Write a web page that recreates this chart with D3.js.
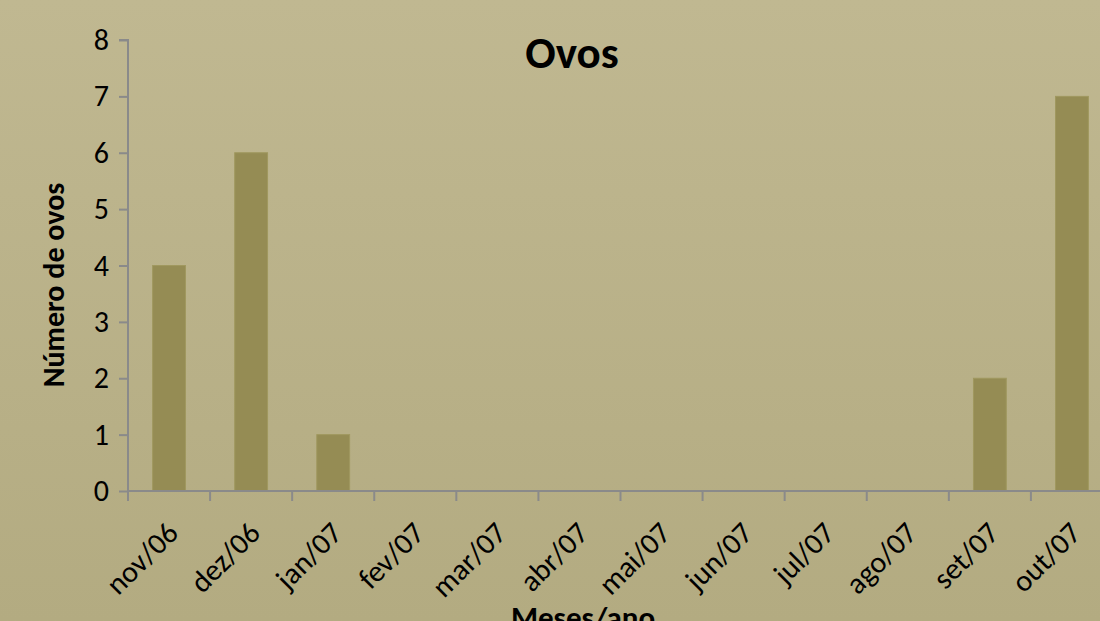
<!DOCTYPE html>
<html>
<head>
<meta charset="utf-8">
<script src="https://cdn.jsdelivr.net/npm/d3@7"></script>
<style>
  html, body { margin: 0; padding: 0; overflow: hidden; }
  svg { display: block; font-family: Carlito, Calibri, Lato, sans-serif; }
</style>
</head>
<body>
<div class="content"></div>
<script>
var months = ["nov/06", "dez/06", "jan/07", "fev/07", "mar/07", "abr/07",
              "mai/07", "jun/07", "jul/07", "ago/07", "set/07", "out/07"];
var ovos = [4, 6, 1, 0, 0, 0, 0, 0, 0, 0, 2, 7];
var yTicks = [0, 1, 2, 3, 4, 5, 6, 7, 8];

var W = 1100, H = 621;
var mLeft = 128, mRight = 1113, mTop = 40, mBottom = 491;

var svg = d3.select(".content").append("svg")
  .attr("width", W)
  .attr("height", H);

// background
var grad = svg.append("defs").append("linearGradient")
  .attr("id", "bg").attr("x1", 0).attr("y1", 0).attr("x2", 0).attr("y2", 1);
grad.append("stop").attr("offset", "0%").attr("stop-color", "#c0b891");
grad.append("stop").attr("offset", "100%").attr("stop-color", "#b3ab81");
svg.append("rect").attr("width", W).attr("height", H).attr("fill", "url(#bg)");

var x = d3.scaleBand().domain(months).range([mLeft, mRight])
  .paddingInner(0.6).paddingOuter(0.3);
var xCat = d3.scaleBand().domain(months).range([mLeft, mRight]).padding(0);
var y = d3.scaleLinear().domain([0, 8]).range([mBottom, mTop]);

// bars
svg.selectAll("rect.bars")
  .data(ovos)
  .enter().append("rect")
    .attr("class", "bars")
    .attr("x", function(d, i) { return x(months[i]); })
    .attr("width", x.bandwidth())
    .attr("y", function(d) { return y(d); })
    .attr("height", function(d) { return y(0) - y(d); })
    .attr("fill", "#958c54")
    .attr("stroke", "#a0985f")
    .attr("stroke-width", 1);

// y axis
var yAxis = svg.append("g")
  .attr("transform", "translate(" + mLeft + ",0)")
  .call(d3.axisLeft(y).tickValues(yTicks).tickSize(9).tickPadding(10).tickFormat(d3.format("d")));
yAxis.select(".domain").attr("stroke", "#8a8a8a").attr("stroke-width", 2)
  .attr("d", "M-9," + mTop + "H0V" + mBottom);
yAxis.selectAll(".tick line").attr("stroke", "#8a8a8a").attr("stroke-width", 2);
yAxis.selectAll(".tick text").attr("font-size", 30).attr("fill", "#000")
  .attr("font-family", "Carlito, Calibri, Lato, sans-serif");

// x axis line and boundary ticks
var bounds = months.map(function(m) { return xCat(m); }).concat([mRight]);
svg.append("line")
  .attr("x1", mLeft).attr("x2", mRight)
  .attr("y1", y(0)).attr("y2", y(0))
  .attr("stroke", "#8a8a8a").attr("stroke-width", 2);
svg.selectAll("line.xtick")
  .data(bounds)
  .enter().append("line")
    .attr("class", "xtick")
    .attr("x1", function(d) { return d; }).attr("x2", function(d) { return d; })
    .attr("y1", y(0)).attr("y2", y(0) + 10)
    .attr("stroke", "#8a8a8a").attr("stroke-width", 2);

svg.selectAll("text.xlab")
  .data(months)
  .enter().append("text")
    .attr("class", "xlab")
    .attr("text-anchor", "end")
    .attr("font-size", 30)
    .attr("transform", function(d) {
      var cx = xCat(d) + xCat.bandwidth() / 2;
      return "translate(" + (cx - 4) + "," + 520 + ") rotate(-45)";
    })
    .attr("dy", "0.7em")
    .text(function(d) { return d; });

// titles
svg.append("text")
  .attr("x", 572).attr("y", 68)
  .attr("text-anchor", "middle")
  .attr("font-size", 45).attr("font-weight", "bold")
  .text("Ovos");

svg.append("text")
  .attr("transform", "translate(64,285) rotate(-90)")
  .attr("text-anchor", "middle")
  .attr("font-size", 30).attr("font-weight", "bold")
  .text("Número de ovos");

svg.append("text")
  .attr("x", 583).attr("y", 628)
  .attr("text-anchor", "middle")
  .attr("font-size", 31).attr("font-weight", "bold")
  .text("Meses/ano");
</script>
</body>
</html>
